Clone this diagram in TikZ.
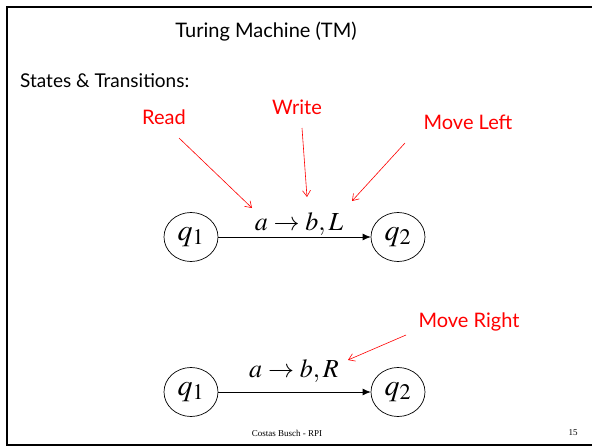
\documentclass[tikz,border=0pt]{standalone}
\usepackage{mathptmx}
\usepackage{fontspec}
\setmainfont{Liberation Serif}
\newfontfamily\gill{Lato}
\usetikzlibrary{shapes.geometric,arrows.meta}
\begin{document}
\begin{tikzpicture}[x=1pt,y=-1pt,
  state/.style={draw,ellipse,line width=0.7pt,minimum width=54pt,minimum height=49pt,inner sep=0pt,font=\fontsize{30}{30}\selectfont},
  trans/.style={line width=0.7pt,-{Latex[length=8pt,width=7pt]}},
  redlab/.style={anchor=base,text=red,font=\gill\fontsize{20}{20}\selectfont,inner sep=0pt},
  redarrow/.style={red,line width=0.6pt,-{Straight Barb[length=6pt,width=8pt]}},
  tlab/.style={anchor=base,inner sep=0pt,font=\fontsize{26}{26}\selectfont}]
\useasboundingbox (0,0) rectangle (592,447);
\draw[line width=2.5pt] (592,7) -- (7,7) -- (7,445) -- (592,445);
\node[anchor=base,inner sep=0pt,font=\gill\fontsize{20}{20}\selectfont] (title) at (266,37) {Turing Machine (TM)};
\node[anchor=base west,inner sep=0pt,font=\gill\fontsize{19}{19}\selectfont] (sub) at (20,87) {States \& Transitions:};
% upper
\node[state] (q1a) at (191,237) {$q_1$};
\node[state] (q2a) at (398,237) {$q_2$};
\draw[trans] (q1a) -- (q2a);
\node[tlab] (la) at (299,230) {$a\rightarrow b,L$};
\node[redlab] (read) at (164,124) {Read};
\node[redlab] (write) at (297,114) {Write};
\node[redlab] (mleft) at (468,129) {Move Left};
\coordinate (rs) at (179,138); \coordinate (re) at (252,208);
\coordinate (ws) at (302,128); \coordinate (we) at (307,197);
\coordinate (ms) at (405,143); \coordinate (me) at (352,201);
\draw[redarrow] (rs) -- (re);
\draw[redarrow] (ws) -- (we);
\draw[redarrow] (ms) -- (me);
% lower
\node[state] (q1b) at (191,392) {$q_1$};
\node[state] (q2b) at (398,392) {$q_2$};
\draw[trans] (q1b) -- (q2b);
\node[tlab] (lb) at (294,377) {$a\rightarrow b,R$};
\node[redlab] (mright) at (469,327) {Move Right};
\coordinate (mrs) at (406,335); \coordinate (mre) at (348,360);
\draw[redarrow] (mrs) -- (mre);
% footer
\node[inner sep=0pt,font=\fontsize{9}{9}\selectfont] (foot) at (287,433) {Costas Busch - RPI};
\node[inner sep=0pt,font=\fontsize{9}{9}\selectfont] (page) at (573,433) {15};
\end{tikzpicture}
\end{document}
